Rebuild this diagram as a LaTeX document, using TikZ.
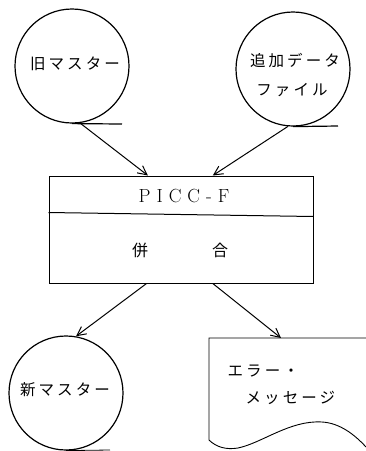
\documentclass[tikz,border=0pt]{standalone}
\usepackage{fontspec}
\usetikzlibrary{arrows.meta,calc}
\newfontfamily\jp[LetterSpace=20]{Noto Sans CJK JP}
\newfontfamily\jpn{Noto Sans CJK JP}
\begin{document}
\begin{tikzpicture}[x=1pt,y=-1pt,
  line width=1.2pt,
  disk/.style={circle,draw,minimum size=114pt,inner sep=0pt},
  jtext/.style={font=\jp\fontsize{15.5}{18}\selectfont,inner sep=0pt},
  flow/.style={-{Straight Barb[length=9pt,width=9pt,line width=1pt]},line width=1pt}]
\useasboundingbox (0,0) rectangle (366,451);
% circles
\node[disk] (c1) at (72,66) {};
\node[disk] (c2) at (293,69) {};
\node[disk] (c3) at (66,393) {};
\node[jtext] (t1) at (75,64) {旧マスター};
\node[jtext] (t2a) at (295,61) {追加データ};
\node[jtext] (t2b) at (292,90) {ファイル};
\node[jtext] (t3) at (65,390) {新マスター};
% tangent lines
\coordinate (e1) at (122,124);
\coordinate (e2) at (338,126);
\coordinate (e3) at (110,450);
\draw (c1.south) -- (e1);
\draw (c2.south) -- (e2);
\draw[line width=0.8pt] (c3.south) -- (e3);
% process box
\node[draw,line width=1pt,minimum width=264pt,minimum height=107pt,inner sep=0pt] (box) at (181,229.5) {};
\draw[line width=1pt] ($(box.north west)+(0,37)$) -- ($(box.north east)+(0,41)$);
\node[font=\fontsize{19}{22}\selectfont,inner sep=0pt] (pf) at (184,196) {P\kern6pt I\kern6pt C\kern6pt C\kern6pt -\kern6pt F};
\node[font=\jpn\fontsize{16}{19}\selectfont,inner sep=0pt] (h1) at (140,250) {併};
\node[font=\jpn\fontsize{16}{19}\selectfont,inner sep=0pt] (h2) at (220,250) {合};
\coordinate (bi1) at ($(box.north west)!0.375!(box.north east)$);
\coordinate (bi2) at ($(box.north west)!0.62!(box.north east)$);
\coordinate (bo1) at ($(box.south west)!0.37!(box.south east)$);
\coordinate (bo2) at ($(box.south west)!0.62!(box.south east)$);
% document
\coordinate (dtop) at (281,338);
\draw[line width=0.9pt] (366,338) -- (209,338) -- (209,440)
  .. controls (216,447) and (226,450) .. (238,448)
  .. controls (262,443) and (290,420) .. (322,422)
  .. controls (340,423) and (355,435) .. (366,447);
\node[jtext,anchor=west] (d1) at (227,371) {エラー・};
\node[jtext,anchor=west] (d2) at (245,398) {メッセージ};
% arrows
\draw[flow] (c1.-82) -- (bi1);
\draw[flow] (c2.-95) -- (bi2);
\draw[flow] (bo1) -- (c3.80);
\draw[flow] (bo2) -- (dtop);
\end{tikzpicture}
\end{document}
